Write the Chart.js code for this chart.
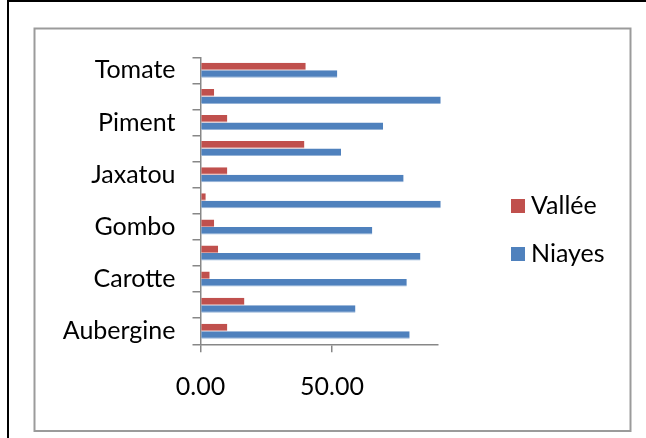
<!DOCTYPE html>
<html>
<head>
<meta charset="utf-8">
<script src="https://cdn.jsdelivr.net/npm/chart.js@4/dist/chart.umd.min.js"></script>
<style>
  html, body { margin: 0; padding: 0; background: #fff; }
  #wrap { width: 646px; height: 438px; position: relative; }
</style>
</head>
<body>
<div id="wrap"><canvas id="c" width="646" height="438"></canvas></div>
<script>
// Vegetables, listed from the top row down
const categories = ['Tomate', 'Poivron', 'Piment', 'Oignon', 'Jaxatou', 'Haricot', 'Gombo', 'Chou', 'Carotte', 'Betterave', 'Aubergine'];
const seriesNames = ['Vallée', 'Niayes'];
const valleeValues = [40.0, 5.2, 10.2, 39.5, 10.2, 2.0, 5.2, 6.7, 3.5, 16.7, 10.2];
const niayesValues = [52.0, 91.3, 69.4, 53.4, 77.2, 91.3, 65.3, 83.6, 78.4, 58.9, 79.5];
const xTickValues = [0, 50];
const xMax = 90;

const RED = '#C0504D';
const BLUE = '#4F81BD';
const AXIS = '#878787';
const FONT = 'Lato, "Open Sans", sans-serif';
const FONT_SIZE = 25;

// Outer page frame and inner chart frame
const framePlugin = {
  id: 'frames',
  beforeDraw(chart) {
    const ctx = chart.ctx;
    ctx.save();
    ctx.fillStyle = '#fff';
    ctx.fillRect(0, 0, chart.width, chart.height);
    ctx.strokeStyle = '#000';
    ctx.lineWidth = 2;
    ctx.beginPath();
    ctx.moveTo(8, 438);
    ctx.lineTo(8, 1);
    ctx.lineTo(646, 1);
    ctx.stroke();
    ctx.strokeStyle = '#9b9b9b';
    ctx.lineWidth = 2;
    ctx.strokeRect(34.5, 28.5, 596, 402.5);
    ctx.restore();
  }
};

// Legend on the right: swatch + series name
const legendPlugin = {
  id: 'sideLegend',
  afterDraw(chart) {
    const ctx = chart.ctx;
    ctx.save();
    ctx.font = FONT_SIZE + 'px ' + FONT;
    ctx.textBaseline = 'middle';
    ctx.textAlign = 'left';
    chart.data.datasets.forEach((ds, i) => {
      const cy = 206 + i * 48;
      ctx.fillStyle = ds.backgroundColor;
      ctx.fillRect(511, cy - 7, 14, 14);
      ctx.fillStyle = '#000';
      ctx.fillText(ds.label, 531, cy);
    });
    ctx.restore();
  }
};

new Chart(document.getElementById('c'), {
  type: 'bar',
  data: {
    labels: categories,
    datasets: [
      {
        label: seriesNames[0],
        data: valleeValues,
        backgroundColor: RED,
        borderColor: '#d99694',
        borderWidth: { top: 0, right: 0, bottom: 1, left: 0 },
        borderSkipped: false,
        clip: false
      },
      {
        label: seriesNames[1],
        data: niayesValues,
        backgroundColor: BLUE,
        borderColor: '#95b3d7',
        borderWidth: { top: 0, right: 0, bottom: 1, left: 0 },
        borderSkipped: false,
        clip: false
      }
    ]
  },
  options: {
    indexAxis: 'y',
    responsive: false,
    devicePixelRatio: 1,
    animation: false,
    categoryPercentage: 0.575,
    barPercentage: 1.0,
    layout: { padding: { left: 36, right: 208.7, top: 57.3, bottom: 33.7 } },
    plugins: {
      legend: { display: false },
      tooltip: { enabled: false }
    },
    scales: {
      x: {
        type: 'linear',
        min: 0,
        max: xMax,
        afterFit(scale) { scale.height = 60; },
        afterBuildTicks(scale) {
          scale.ticks = xTickValues.map(v => ({ value: v }));
        },
        ticks: {
          includeBounds: false,
          padding: 20,
          color: '#000',
          font: { family: FONT, size: FONT_SIZE },
          callback: v => Number(v).toFixed(2)
        },
        grid: {
          drawOnChartArea: false,
          drawTicks: true,
          tickLength: 8,
          color: AXIS,
          lineWidth: 1.5
        },
        border: { display: true, color: AXIS, width: 1.5 }
      },
      y: {
        type: 'category',
        afterFit(scale) { scale.width = 164.5; },
        ticks: {
          autoSkip: false,
          padding: 17,
          color: '#000',
          font: { family: FONT, size: FONT_SIZE },
          callback(value, index) {
            return index % 2 === 0 ? this.getLabelForValue(value) : '';
          }
        },
        grid: {
          offset: true,
          drawOnChartArea: false,
          drawTicks: true,
          tickLength: 8,
          color: AXIS,
          lineWidth: 1.5
        },
        border: { display: true, color: AXIS, width: 1.5 }
      }
    }
  },
  plugins: [framePlugin, legendPlugin]
});
</script>
</body>
</html>
